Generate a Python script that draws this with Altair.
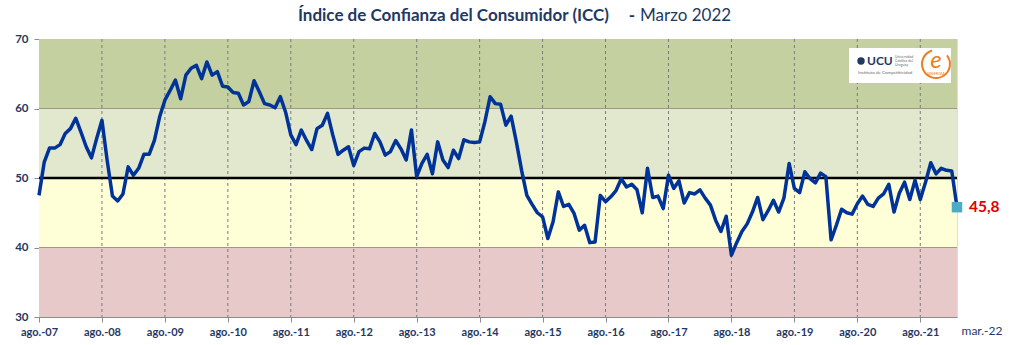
import altair as alt
import pandas as pd

# Monthly consumer confidence index, ago.-07 .. mar.-22
icc = [
    47.5, 52.3, 54.3, 54.3, 54.8, 56.4, 57.1, 58.6, 56.6, 54.5, 52.9, 55.7, 58.3, 52.5, 47.4,
    46.7, 47.7, 51.6, 50.4, 51.4, 53.4, 53.4, 55.4, 58.8, 61.2, 62.6, 64.1, 61.4, 64.8, 65.8,
    66.2, 64.3, 66.7, 64.8, 65.3, 63.2, 63.1, 62.3, 62.2, 60.5, 61.0, 64.0, 62.4, 60.7, 60.5,
    60.1, 61.7, 59.5, 56.2, 54.8, 56.9, 55.4, 54.1, 57.1, 57.6, 59.3, 56.2, 53.4, 54.0, 54.5,
    51.8, 53.8, 54.3, 54.2, 56.4, 55.2, 53.3, 53.8, 55.4, 54.2, 52.6, 56.9, 50.2, 52.1, 53.4,
    50.6, 55.2, 52.6, 51.5, 54.0, 52.8, 55.5, 55.2, 55.1, 55.2, 58.1, 61.7, 60.7, 60.6, 57.6,
    58.9, 55.2, 51.1, 47.5, 46.2, 45.0, 44.4, 41.3, 43.7, 48.0, 45.9, 46.2, 44.9, 42.5, 43.2,
    40.7, 40.8, 47.5, 46.6, 47.3, 48.2, 49.9, 48.7, 49.1, 48.3, 45.0, 51.4, 47.2, 47.4, 45.6,
    50.4, 48.5, 49.6, 46.4, 47.9, 47.7, 48.3, 47.1, 46.1, 43.9, 42.3, 44.5, 38.9, 40.7, 42.3,
    43.4, 45.1, 47.2, 44.0, 45.3, 46.8, 45.1, 47.1, 52.1, 48.5, 47.9, 50.9, 49.9, 49.3, 50.7,
    50.2, 41.1, 43.2, 45.5, 45.0, 44.8, 46.3, 47.4, 46.2, 45.9, 47.1, 47.7, 49.1, 45.1, 47.8,
    49.4, 46.9, 49.7, 46.9, 49.4, 52.2, 50.6, 51.4, 51.1, 51.0, 45.8,
]

aug_labels = ["ago.-07", "ago.-08", "ago.-09", "ago.-10", "ago.-11", "ago.-12", "ago.-13",
              "ago.-14", "ago.-15", "ago.-16", "ago.-17", "ago.-18", "ago.-19", "ago.-20",
              "ago.-21"]
last_label = "mar.-22"

band_lo = [30, 40, 50, 60]
band_hi = [40, 50, 60, 70]
band_fill = ["#E8C9C9", "#FFFFD7", "#E1E8CD", "#C4D0A0"]

title_main = "Índice de Confianza del Consumidor (ICC)"
title_date = "Marzo 2022"

NAVY = "#1F3864"
FONT = "Lato"
W, H = 918, 278

n = len(icc)
df = pd.DataFrame({"m": list(range(n)), "icc": icc})
last = df.iloc[[-1]].assign(label=f"{icc[-1]:.1f}".replace(".", ","), tl=last_label)

xs = alt.Scale(domain=[0, n - 1], nice=False, zero=False)
ys = alt.Scale(domain=[30, 70], nice=False, zero=False)

tick_months = [12 * i for i in range(len(aug_labels))]
label_expr = "[" + ",".join(f"'{t}'" for t in aug_labels) + "][round(datum.value / 12)]"

# background bands with the y axis
bands = alt.Chart(pd.DataFrame({"lo": band_lo, "hi": band_hi, "fill": band_fill})).mark_rect().encode(
    x=alt.value(0), x2=alt.value(W),
    y=alt.Y("lo:Q", scale=ys, title=None,
            axis=alt.Axis(values=[30, 40, 50, 60, 70], grid=False, tickSize=5, labelPadding=6,
                          labelFont=FONT, labelFontSize=11.5, labelFontWeight="bold",
                          labelColor=NAVY, tickColor="#8c8c8c", domainColor="#8c8c8c",
                          labelFlush=False)),
    y2="hi:Q",
    color=alt.Color("fill:N", scale=None),
)

band_edges = alt.Chart(pd.DataFrame({"v": [40, 60]})).mark_rule(color="#9a9a86", strokeWidth=1).encode(
    y=alt.Y("v:Q", scale=ys), x=alt.value(0), x2=alt.value(W))

vgrid = alt.Chart(pd.DataFrame({"m": tick_months[1:]})).mark_rule(
    color="#7a7a7a", strokeWidth=1, strokeDash=[3, 3]).encode(
    x=alt.X("m:Q", scale=xs), y=alt.value(0), y2=alt.value(H))

ref50 = alt.Chart(pd.DataFrame({"v": [50]})).mark_rule(color="black", strokeWidth=2.5).encode(
    y=alt.Y("v:Q", scale=ys), x=alt.value(0), x2=alt.value(W))

line = alt.Chart(df).mark_line(color="#003399", strokeWidth=3.5, strokeJoin="round").encode(
    x=alt.X("m:Q", scale=xs, title=None,
            axis=alt.Axis(values=tick_months, labelExpr=label_expr, grid=False, tickSize=5,
                          labelPadding=4, labelFont=FONT, labelFontSize=11,
                          labelFontWeight="bold", labelColor=NAVY, tickColor="#8c8c8c",
                          domainColor="#8c8c8c", labelOverlap=False, labelFlush=False)),
    y=alt.Y("icc:Q", scale=ys),
)

marker = alt.Chart(last).mark_square(size=110, color="#4BACC6", opacity=1).encode(
    x=alt.X("m:Q", scale=xs), y=alt.Y("icc:Q", scale=ys))

value_label = alt.Chart(last).mark_text(
    align="left", baseline="middle", dx=12, font=FONT, fontSize=15.5, fontWeight="bold",
    color="#E00000").encode(x=alt.X("m:Q", scale=xs), y=alt.Y("icc:Q", scale=ys), text="label:N")

end_tick_label = alt.Chart(last).mark_text(
    align="center", baseline="top", dx=25, font=FONT, fontSize=12, color=NAVY).encode(
    x=alt.X("m:Q", scale=xs), y=alt.value(H + 9), text="tl:N")

# title: bold series name, then the month
title_df = pd.DataFrame({"a": [title_main], "b": ["-"], "c": [title_date]})
t1 = alt.Chart(title_df).mark_text(align="right", baseline="middle", font=FONT, fontSize=17,
                                   fontWeight="bold", color=NAVY).encode(
    x=alt.value(570), y=alt.value(-23), text="a:N")
t2 = alt.Chart(title_df).mark_text(align="center", baseline="middle", font=FONT, fontSize=17,
                                   fontWeight="bold", color=NAVY).encode(
    x=alt.value(593), y=alt.value(-23), text="b:N")
t3 = alt.Chart(title_df).mark_text(align="left", baseline="middle", font=FONT, fontSize=17,
                                   color=NAVY).encode(
    x=alt.value(601), y=alt.value(-23), text="c:N")

# institutional logo box
logo_box = alt.Chart(pd.DataFrame({"k": [0]})).mark_rect(color="white").encode(
    x=alt.value(810), x2=alt.value(912), y=alt.value(9), y2=alt.value(44))
ucu_seal = alt.Chart(pd.DataFrame({"k": [0]})).mark_point(
    shape="circle", filled=True, size=55, color=NAVY, opacity=1).encode(
    x=alt.value(822), y=alt.value(22))
ucu_text = alt.Chart(pd.DataFrame({"t": ["UCU"]})).mark_text(
    align="left", baseline="middle", font=FONT, fontSize=12, fontWeight="bold", color=NAVY).encode(
    x=alt.value(828), y=alt.value(22), text="t:N")
ucu_small = alt.Chart(pd.DataFrame({"t": ["Universidad", "Católica del", "Uruguay"], "yy": [18, 22, 26]})).mark_text(
    align="left", baseline="middle", font=FONT, fontSize=3.5, color="#6b6b6b").encode(
    x=alt.value(856), y=alt.Y("yy:Q", scale=None), text="t:N")
inst_text = alt.Chart(pd.DataFrame({"t": ["Instituto de Competitividad"]})).mark_text(
    align="left", baseline="middle", font=FONT, fontSize=4.5, color="#6b6b6b").encode(
    x=alt.value(819), y=alt.value(34), text="t:N")
e_ring = alt.Chart(pd.DataFrame({"k": [0]})).mark_arc(
    radius=15, radius2=13, theta=0.9, theta2=6.0, color="#EE7D1F").encode(
    x=alt.value(897), y=alt.value(25))
e_text = alt.Chart(pd.DataFrame({"t": ["e"]})).mark_text(
    align="center", baseline="middle", font=FONT, fontSize=24, fontStyle="italic",
    color="#EE7D1F").encode(x=alt.value(897), y=alt.value(22), text="t:N")
e_small = alt.Chart(pd.DataFrame({"t": ["SINERGIA"]})).mark_text(
    align="center", baseline="middle", font=FONT, fontSize=4, color="#EE7D1F").encode(
    x=alt.value(897), y=alt.value(35), text="t:N")

chart = alt.layer(
    bands, band_edges, vgrid, ref50, line, marker, value_label, end_tick_label,
    t1, t2, t3, logo_box, ucu_seal, ucu_text, ucu_small, inst_text, e_ring, e_text, e_small,
).properties(
    width=W, height=H,
    autosize=alt.AutoSizeParams(type="none"),
    padding={"left": 39, "top": 39, "right": 55, "bottom": 28},
    background="white",
).configure_view(stroke="#8c8c8c", strokeWidth=1).configure(font=FONT)

chart.save("out.html", embed_options={"renderer": "svg", "actions": False})
